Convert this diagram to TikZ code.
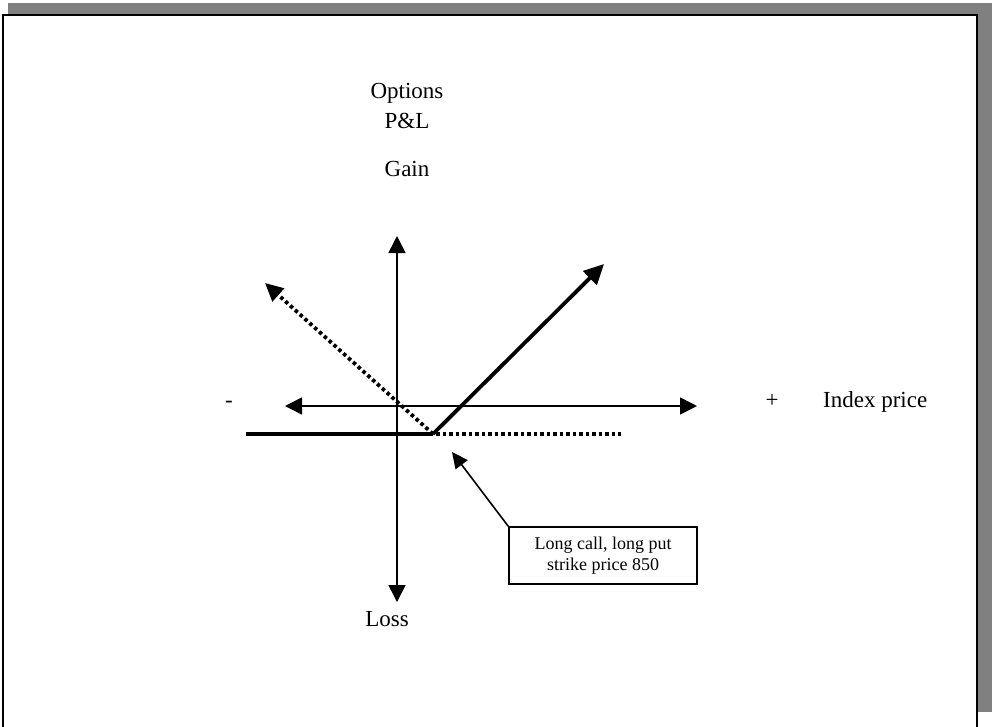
\documentclass[tikz,border=0pt]{standalone}
\usepackage{fontspec}
\setmainfont{Liberation Serif}
\usetikzlibrary{arrows.meta}
\begin{document}
\begin{tikzpicture}[x=1pt,y=-1pt,
  axis/.style={line width=1.6pt,-{Triangle[length=17pt,width=17pt]}},
  bighead/.style={-{Triangle[length=20pt,width=19pt]}},
  thickline/.style={line width=3.8pt,line cap=butt},
  dotline/.style={line width=3.8pt,dash pattern=on 3.5pt off 3pt},
  lbl/.style={font=\fontsize{23}{27}\selectfont,inner sep=0pt,anchor=base},
  notebox/.style={draw,line width=1.6pt,fill=white,minimum width=188pt,minimum height=57pt,inner sep=0pt,align=center,font=\fontsize{18}{21}\selectfont}]
\useasboundingbox (0,0) rectangle (992,726);
% shadow and frame
\fill[black!50] (8,3) rectangle (992,712);
\draw[fill=white,line width=2.2pt] (3,15) rectangle (977,740);
% coordinates
\coordinate (O) at (397,406);
\coordinate (top) at (397,236);
\coordinate (bot) at (397,602);
\coordinate (left) at (285,406);
\coordinate (right) at (697,406);
\coordinate (K) at (433,434);
\coordinate (Lend) at (246,434);
\coordinate (Dend) at (621,434);
\coordinate (callTip) at (604,264);
\coordinate (putTip) at (265,283);
\coordinate (noteTip) at (452,452);
% axes
\draw[axis] (O) -- (top);
\draw[axis] (O) -- (bot);
\draw[axis] (O) -- (left);
\draw[axis] (O) -- (right);
% payoff lines
\draw[thickline] (Lend) -- (K);
\draw[line width=3.8pt,bighead] (K) -- (callTip);
\draw[dotline] ([xshift=3pt]K) -- (Dend);
\draw[dotline,-{Triangle[length=18pt,width=17pt]}] (K) -- (putTip);
% note box
\node[notebox] (note) at (603,555.5) {Long call, long put\\strike price 850};
\draw[line width=1.6pt,-{Triangle[length=16pt,width=15pt]}] (note.north west) -- (noteTip);
% labels
\node[lbl] (opt) at (407,98) {Options};
\node[lbl] (pl) at (407,128) {P\&L};
\node[lbl] (gain) at (407,176) {Gain};
\node[lbl] (loss) at (387,626) {Loss};
\node[lbl] (minus) at (229,407) {-};
\node[lbl] (plus) at (772,407) {+};
\node[lbl,anchor=base west] (idx) at (823,407) {Index price};
\end{tikzpicture}
\end{document}
